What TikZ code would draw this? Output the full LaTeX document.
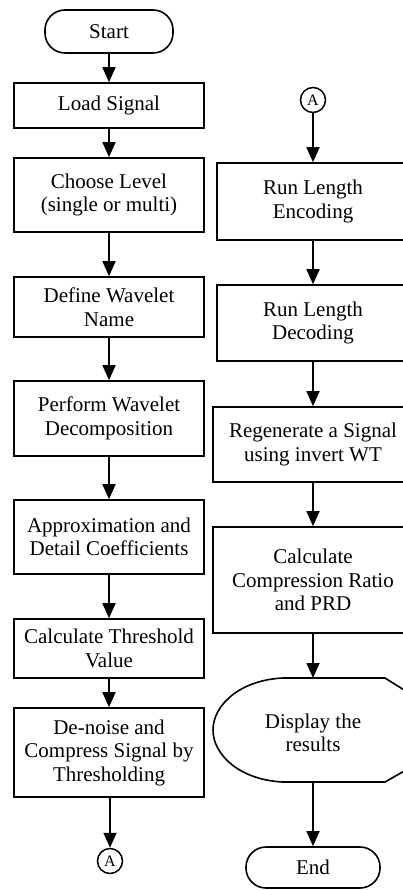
\documentclass[tikz,border=0pt]{standalone}
\usepackage{fontspec}
\setmainfont{Liberation Serif}
\usetikzlibrary{arrows.meta}
\tikzset{
  box/.style={draw, line width=1.6pt, rectangle, minimum width=190pt, align=center, inner sep=2pt,
    font=\fontsize{21}{23.5}\selectfont},
  term/.style={draw, line width=1.6pt, rectangle, rounded corners=20pt, align=center,
    font=\fontsize{21}{23.5}\selectfont},
  conn/.style={draw, line width=1.5pt, circle, minimum size=25pt, inner sep=0pt,
    font=\fontsize{16}{18}\selectfont},
  flow/.style={line width=1.6pt, -{Triangle[length=15pt,width=13pt]}},
  shp/.style={line width=1.6pt}
}
\begin{document}
\begin{tikzpicture}[x=1pt,y=-1pt]
\useasboundingbox (0,0) rectangle (403,890);
\clip (0,0) rectangle (403,890);
% left column
\node[term, minimum width=128pt, minimum height=43pt] (start) at (109,31.5) {Start};
\node[box, minimum height=45pt] (load) at (109,105.5) {Load Signal};
\node[box, minimum height=74pt] (choose) at (109,195) {Choose Level\\(single or multi)};
\node[box, minimum height=60pt] (define) at (109,307) {Define Wavelet\\Name};
\node[box, minimum height=75pt] (perform) at (109,418.5) {Perform Wavelet\\Decomposition};
\node[box, minimum height=74pt] (approx) at (109,537) {Approximation and\\Detail Coefficients};
\node[box, minimum height=59pt] (thresh) at (109,648.5) {Calculate Threshold\\Value};
\node[box, minimum height=89pt] (denoise) at (109,752.5) {De-noise and\\Compress Signal by\\Thresholding};
\node[conn] (aleft) at (110,861) {A};
\draw[flow] (start) -- (load);
\draw[flow] (load) -- (choose);
\draw[flow] (choose) -- (define);
\draw[flow] (define) -- (perform);
\draw[flow] (perform) -- (approx);
\draw[flow] (approx) -- (thresh);
\draw[flow] (thresh) -- (denoise);
\draw[flow] (denoise.south -| aleft) -- (aleft);
% right column
\node[conn] (atop) at (313,100) {A};
\node[box, minimum width=192pt, minimum height=77pt] (enc) at (313,201.5) {Run Length\\Encoding};
\node[box, minimum width=192pt, minimum height=76pt] (dec) at (313,323) {Run Length\\Decoding};
\node[box, minimum width=200pt, minimum height=75pt] (regen) at (313,444.5) {Regenerate a Signal\\using invert WT};
\node[box, minimum width=200pt, minimum height=106pt] (calc) at (313,580) {Calculate\\Compression Ratio\\and PRD};
\coordinate (disptop) at (313,678);
\coordinate (dispbot) at (313,782);
\node[align=center, font=\fontsize{21}{23.5}\selectfont] (disp) at (313,733) {Display the\\results};
\draw[shp] (283,678) -- (385,678) -- (420,700) -- (420,762) -- (385,782) -- (283,782)
  .. controls (240,780) and (213,755) .. (213,730)
  .. controls (213,705) and (240,680) .. (283,678) -- cycle;
\node[term, minimum width=134pt, minimum height=41pt] (endn) at (313,867.5) {End};
\draw[flow] (atop) -- (enc);
\draw[flow] (enc) -- (dec);
\draw[flow] (dec) -- (regen);
\draw[flow] (regen) -- (calc);
\draw[flow] (calc.south) -- (disptop);
\draw[flow] (dispbot) -- (endn);
\end{tikzpicture}
\end{document}
